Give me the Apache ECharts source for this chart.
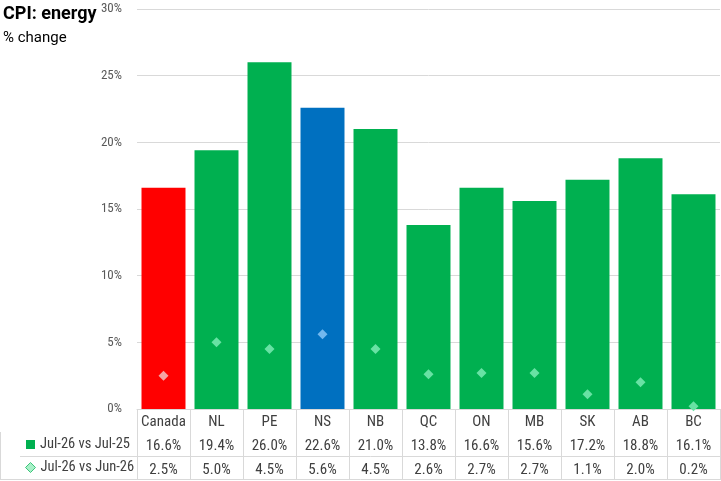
<!DOCTYPE html>
<html>
<head>
<meta charset="utf-8">
<script src="https://cdn.jsdelivr.net/npm/echarts@6/dist/echarts.min.js"></script>
<style>
html,body{margin:0;padding:0;background:#fff;}
#chart{width:721px;height:481px;}
</style>
</head>
<body>
<div id="chart"></div>
<script>
const categories = ['Canada','NL','PE','NS','NB','QC','ON','MB','SK','AB','BC'];
const yoyValues = [16.6,19.4,26.0,22.6,21.0,13.8,16.6,15.6,17.2,18.8,16.1];
const momValues = [2.5,5.0,4.5,5.6,4.5,2.6,2.7,2.7,1.1,2.0,0.2];
const yTicks = {min:0, max:30, interval:5};
const seriesNames = ['Jul-26 vs Jul-25','Jul-26 vs Jun-26'];

const GREEN = '#00B050', RED = '#FF0000', BLUE = '#0070C0';
const barColor = c => c === 'Canada' ? RED : (c === 'NS' ? BLUE : GREEN);
const markColor = c => c === 'Canada' ? '#f5a3a3' : (c === 'NS' ? '#72b8ee' : '#68e2a4');
const FONT = 'Roboto, "DejaVu Sans", sans-serif';
const NARROW = '"Liberation Sans Narrow", "Roboto Condensed", Roboto, sans-serif';

const chart = echarts.init(document.getElementById('chart'), null, {renderer:'canvas'});
chart.setOption({
  animation:false,
  textStyle:{fontFamily:FONT},
  grid:{left:137, right:1, top:9, bottom:72, containLabel:false},
  title:[
    {text:'CPI: energy', left:3, top:5, padding:0, textStyle:{fontSize:18, fontWeight:'bold', color:'#000', fontFamily:FONT}},
    {text:'% change', left:3, top:31, padding:0, textStyle:{fontSize:15, fontWeight:'normal', color:'#000', fontFamily:FONT}}
  ],
  legend:[
    {data:[{name:seriesNames[0], icon:'rect'}], left:26, top:437, padding:0, itemWidth:9, itemHeight:9, itemGap:5,
     textStyle:{fontSize:14.5, color:'#404040', fontFamily:NARROW}, selectedMode:false},
    {data:[{name:seriesNames[1], icon:'diamond', itemStyle:{color:'#a8f0c8', borderColor:'#3cc47a', borderWidth:1, opacity:1}}],
     left:25, top:460, padding:0, itemWidth:10, itemHeight:10, itemGap:5,
     textStyle:{fontSize:14.5, color:'#404040', fontFamily:NARROW}, selectedMode:false}
  ],
  xAxis:{
    type:'category',
    data:categories,
    boundaryGap:true,
    axisLine:{show:true, lineStyle:{color:'#d9d9d9', width:1}},
    axisTick:{show:true, length:70, lineStyle:{color:'#d9d9d9', width:1}},
    axisLabel:{
      interval:0, margin:1,
      formatter:(v, i) => `{c|${v}}\n{v|${yoyValues[i].toFixed(1)}%}\n{v|${momValues[i].toFixed(1)}%}`,
      rich:{
        c:{fontSize:15, color:'#404040', lineHeight:24, fontFamily:NARROW},
        v:{fontSize:15, color:'#404040', lineHeight:24, fontFamily:NARROW}
      }
    }
  },
  yAxis:{
    type:'value', min:yTicks.min, max:yTicks.max, interval:yTicks.interval,
    axisLine:{show:false}, axisTick:{show:false},
    splitLine:{lineStyle:{color:'#d9d9d9', width:1}},
    axisLabel:{formatter:'{value}%', fontSize:13, color:'#595959', margin:15, fontFamily:NARROW}
  },
  series:[
    {
      name:seriesNames[0], type:'bar', barCategoryGap:'17%',
      itemStyle:{color:GREEN},
      data:yoyValues.map((v,i)=>({value:v, itemStyle:{color:barColor(categories[i])}}))
    },
    {
      name:seriesNames[1], type:'scatter', symbol:'diamond', symbolSize:10,
      itemStyle:{color:'#68e2a4', opacity:1},
      data:momValues.map((v,i)=>({value:v, itemStyle:{color:markColor(categories[i]), opacity:1}})), z:5
    }
  ],
  graphic:[
    {type:'line', shape:{x1:20, y1:456.5, x2:721, y2:456.5}, style:{stroke:'#d9d9d9', lineWidth:1}},
    {type:'line', shape:{x1:0, y1:479.5, x2:721, y2:479.5}, style:{stroke:'#d9d9d9', lineWidth:1}},
    {type:'line', shape:{x1:0.5, y1:432, x2:0.5, y2:480}, style:{stroke:'#d9d9d9', lineWidth:1}}
  ]
});
</script>
</body>
</html>
